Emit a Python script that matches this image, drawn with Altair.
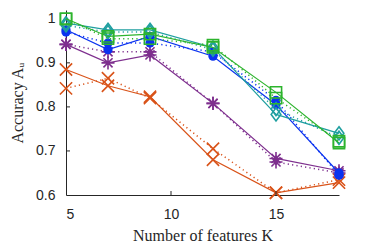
import altair as alt
import pandas as pd

K = [5, 7, 9, 12, 15, 18]

orange_solid = [0.885, 0.848, 0.823, 0.680, 0.605, 0.628]
orange_dotted = [0.842, 0.865, 0.820, 0.705, 0.605, 0.635]
purple_solid = [0.942, 0.900, 0.918, 0.808, 0.683, 0.655]
purple_dotted = [0.942, 0.925, 0.925, 0.808, 0.675, 0.650]
blue_solid = [0.975, 0.930, 0.960, 0.915, 0.805, 0.650]
blue_dotted = [0.970, 0.945, 0.945, 0.925, 0.815, 0.645]
teal_solid = [0.990, 0.975, 0.975, 0.935, 0.783, 0.740]
teal_dotted = [0.985, 0.970, 0.970, 0.930, 0.795, 0.730]
green_solid = [1.000, 0.960, 0.965, 0.935, 0.833, 0.718]
green_dotted = [1.000, 0.955, 0.955, 0.940, 0.820, 0.722]

x_ticks = [5, 10, 15]
y_ticks = [0.6, 0.7, 0.8, 0.9, 1.0]

X_PATH = "M-1,-1L1,1M-1,1L1,-1"
AST_PATH = "M-1,0L1,0M0,-1L0,1M-0.7,-0.7L0.7,0.7M-0.7,0.7L0.7,-0.7"
DIA_PATH = "M0,-1.15L0.85,0L0,1.15L-0.85,0Z"

series = [
    ("orange", "#D95319", X_PATH, False, 150, orange_solid, orange_dotted),
    ("purple", "#7E2F8E", AST_PATH, False, 170, purple_solid, purple_dotted),
    ("blue", "#0A32F0", "circle", True, 85, blue_solid, blue_dotted),
    ("teal", "#1F9FA0", DIA_PATH, False, 130, teal_solid, teal_dotted),
    ("green", "#2DB42D", "square", False, 125, green_solid, green_dotted),
]

xs = alt.Scale(domain=[5, 18], nice=False, zero=False)
ys = alt.Scale(domain=[0.6, 1.02], nice=False, zero=False)

axis_col = "#262626"
x_axis = alt.Axis(values=x_ticks, title="Number of features K", grid=False,
                  ticks=False, domainColor=axis_col, domainWidth=1,
                  labelFont="Liberation Sans", labelFontSize=14, labelColor=axis_col,
                  labelPadding=12, titleFont="Liberation Serif", titleFontSize=16,
                  titleFontWeight="normal", titleColor=axis_col, titlePadding=6)
y_axis = alt.Axis(values=y_ticks, title="Accuracy Aᵤ", grid=False, ticks=False,
                  domainColor=axis_col, domainWidth=1,
                  labelExpr="datum.value == 1 ? '1' : format(datum.value, '.1f')",
                  labelFont="Liberation Sans", labelFontSize=14, labelColor=axis_col,
                  labelPadding=11, titleFont="Liberation Serif", titleFontSize=16,
                  titleFontWeight="normal", titleColor=axis_col, titlePadding=10)

xenc = alt.X("K:Q", scale=xs, axis=x_axis)
yenc = alt.Y("acc:Q", scale=ys, axis=y_axis)

layers = []
for name, color, shape, filled, size, solid, dotted in series:
    for style, vals in (("solid", solid), ("dotted", dotted)):
        df = pd.DataFrame({"K": K, "acc": vals})
        line_kwargs = dict(color=color, strokeWidth=1.2, clip=False)
        if style == "dotted":
            line_kwargs["strokeDash"] = [1.2, 3.2]
            line_kwargs["strokeWidth"] = 1.5
        layers.append(alt.Chart(df).mark_line(**line_kwargs).encode(x=xenc, y=yenc))
        pt_kwargs = dict(shape=shape, size=size, color=color, filled=filled,
                         opacity=1, strokeWidth=1.6, clip=False)
        layers.append(alt.Chart(df).mark_point(**pt_kwargs).encode(x=xenc, y=yenc))

# inward ticks
xt = pd.DataFrame({"K": x_ticks[1:]})
layers.append(alt.Chart(xt).mark_rule(color=axis_col, strokeWidth=1).encode(
    x=xenc, y=alt.value(185), y2=alt.value(181)))
yt = pd.DataFrame({"acc": y_ticks[1:4]})
layers.append(alt.Chart(yt).mark_rule(color=axis_col, strokeWidth=1).encode(
    y=yenc, x=alt.value(0), x2=alt.value(4)))

chart = alt.layer(*layers).properties(
    width=273, height=185,
    background="white",
    autosize=alt.AutoSizeParams(type="none"),
    padding={"left": 58, "top": 2, "right": 20, "bottom": 50},
).configure_view(stroke=None)

chart.save("out.html", embed_options={"renderer": "svg", "actions": False})
